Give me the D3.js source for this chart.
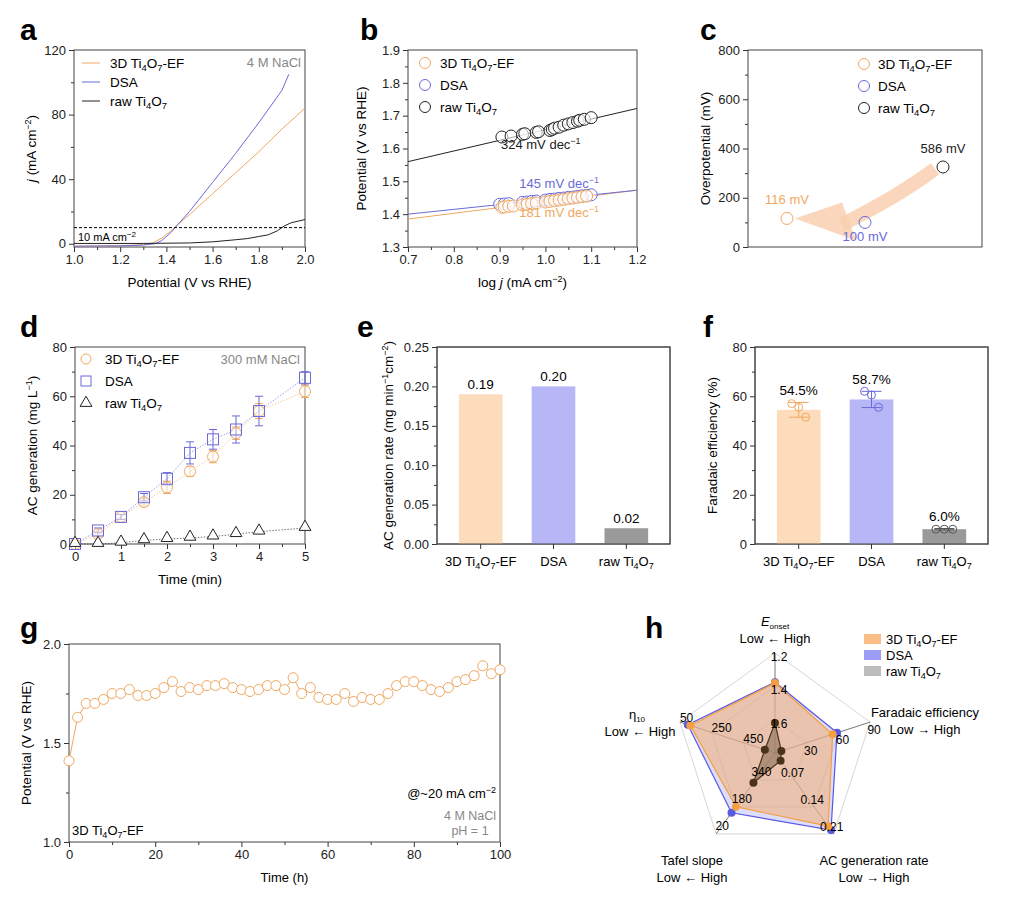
<!DOCTYPE html>
<html lang="en">
<head>
<meta charset="utf-8">
<title>Figure</title>
<script src="https://d3js.org/d3.v7.min.js"></script>
<style>
  body { margin: 0; background: #fff; }
  text { font-family: "Liberation Sans", Arial, sans-serif; }
  .tick text { font-size: 13px; fill: #222; }
  .axis path, .axis line { stroke: #333; }
</style>
</head>
<body>
<script>
// ---- data ----
var names = ["3D Ti4O7-EF", "DSA", "raw Ti4O7"];
var colors = ["#f0a860", "#6a6ad8", "#222"];

// a: LSV curves [V, j]
var lsv3D = [[1.0,-1.5],[1.2,-1.2],[1.3,-0.6],[1.34,0.5],[1.38,3.5],[1.42,8],[1.45,12],[1.5,18],[1.6,31],[1.7,44],[1.8,57],[1.9,71],[2.0,84]];
var lsvDSA = [[1.0,-1.5],[1.2,-1.3],[1.3,-0.8],[1.35,0],[1.38,2],[1.42,7],[1.45,12],[1.5,20],[1.6,38],[1.7,56],[1.8,75],[1.9,95],[1.93,105]];
var lsvRaw = [[1.0,0.2],[1.3,0.2],[1.5,0.5],[1.6,1.2],[1.7,2.5],[1.75,3.2],[1.8,4.5],[1.84,5.5],[1.88,8],[1.91,11],[1.94,13],[2.0,15]];

// b: Tafel points [log j, V] and fits
var tafRawX = [0.905,0.925,0.95,0.955,0.98,0.985,1.01,1.015,1.02,1.03,1.04,1.05,1.06,1.07,1.075,1.085,1.1];
var tafRawY = [1.635,1.638,1.643,1.645,1.649,1.651,1.655,1.658,1.662,1.665,1.671,1.675,1.679,1.683,1.686,1.689,1.694];
var tafDsaX = [0.9,0.91,0.92,0.95,0.96,0.97,0.98,1.0,1.01,1.02,1.03,1.04,1.05,1.06,1.07,1.08,1.09,1.1];
var tafDsaY = [1.43,1.431,1.432,1.436,1.437,1.439,1.44,1.443,1.445,1.446,1.448,1.449,1.451,1.452,1.454,1.456,1.457,1.459];
var taf3DX = [0.905,0.91,0.92,0.93,0.95,0.96,0.97,0.98,1.0,1.01,1.02,1.03,1.04,1.05,1.06,1.07,1.08,1.09];
var taf3DY = [1.421,1.422,1.424,1.425,1.428,1.43,1.432,1.434,1.437,1.439,1.441,1.443,1.445,1.447,1.449,1.451,1.453,1.455];
var fitRaw = [[0.7,1.56],[1.2,1.722]];
var fitDsa = [[0.7,1.40],[1.2,1.473]];
var fit3D = [[0.7,1.385],[1.2,1.473]];

// c: overpotential
var overX = [0.5, 1.5, 2.5];
var overY = [116, 100, 325];
var overLabels = ["116 mV", "100 mV", "586 mV"];

// d: AC generation vs time
var tD = [0,0.5,1,1.5,2,2.5,3,3.5,4,5];
var ac3D = [0,4,11,17,23,29.5,35.5,45,54,62];
var ac3DErr = [0.5,1,1,1.5,2.5,2,2.5,2.5,3,2.5];
var acDsa = [0,5.5,11,19,26.5,37,42.5,46.5,54,67.5];
var acDsaErr = [0.5,1,1,1.5,2.5,4.5,4,5.5,6,2.5];
var acRaw = [0,0,0.5,1.5,2,2.5,3,4,5,6.5];

// e: rate
var rate = [0.19, 0.20, 0.02];
var rateLabels = ["0.19", "0.20", "0.02"];

// f: Faradaic efficiency
var fe = [54.5, 58.7, 6.0];
var feLabels = ["54.5%", "58.7%", "6.0%"];
var feReps = [[57,55.5,51.5],[62,60.5,55.5],[6,6,6]];
var feSd = [3, 3.3, 0.3];

// g: stability
var tG = d3.range(0, 101, 2);
var potG = [1.41,1.63,1.70,1.70,1.72,1.75,1.75,1.77,1.74,1.74,1.75,1.78,1.81,1.76,1.78,1.77,1.79,1.79,1.80,1.78,1.77,1.76,1.77,1.79,1.79,1.77,1.83,1.75,1.78,1.73,1.72,1.72,1.75,1.71,1.73,1.72,1.72,1.75,1.79,1.81,1.81,1.79,1.77,1.76,1.78,1.81,1.82,1.84,1.89,1.85,1.87];

// h: radar
var radarAxes = ["Eonset", "FE", "AC", "Tafel", "eta"];
var radarDomains = [[1.8,1.2],[0,90],[0,0.21],[500,20],[650,50]];
var radarTicks = [["1.6","1.4","1.2"],["30","60","90"],["0.07","0.14","0.21"],["340","180","20"],["450","250","50"]];
var radar3D = [1.38, 54.5, 0.19, 181, 116];
var radarDsa = [1.375, 58.7, 0.20, 145, 100];
var radarRaw = [1.62, 6.0, 0.02, 324, 586];

// ---- helpers ----
var svg = d3.select("body").append("svg").attr("width", 1024).attr("height", 898);

function nameText(sel, n) {
  // writes name with subscripts for Ti4O7
  if (n.indexOf("Ti4O7") < 0) { sel.text(n); return sel; }
  var pre = n.split("Ti4O7")[0], post = n.split("Ti4O7")[1];
  sel.append("tspan").text(pre + "Ti");
  sel.append("tspan").attr("font-size", "0.7em").attr("dy", 3).text("4");
  sel.append("tspan").attr("dy", -3).text("O");
  sel.append("tspan").attr("font-size", "0.7em").attr("dy", 3).text("7");
  sel.append("tspan").attr("dy", -3).text(post);
  return sel;
}

function panelLetter(l, x, y) {
  svg.append("text").attr("x", x).attr("y", y).attr("font-size", 30).attr("font-weight", "bold").text(l);
}

function frame(x0, y0, w, h, xs, ys, xt, yt, xMinor, yMinor, xFmt, yFmt) {
  var g = svg.append("g").attr("transform", "translate(" + x0 + "," + y0 + ")");
  if (xs) {
    g.append("g").attr("class", "axis").attr("transform", "translate(0," + h + ")")
      .call(d3.axisBottom(xs).tickValues(xt).tickSize(5).tickFormat(xFmt || d3.format(".1f")))
      .call(a => a.select(".domain").remove());
    if (xMinor) g.append("g").attr("class", "axis").attr("transform", "translate(0," + h + ")")
      .call(d3.axisBottom(xs).tickValues(xMinor).tickSize(3).tickFormat(""))
      .call(a => a.select(".domain").remove());
  }
  g.append("g").attr("class", "axis")
    .call(d3.axisLeft(ys).tickValues(yt).tickSize(5).tickFormat(yFmt || d3.format("")))
    .call(a => a.select(".domain").remove());
  if (yMinor) g.append("g").attr("class", "axis")
    .call(d3.axisLeft(ys).tickValues(yMinor).tickSize(3).tickFormat(""))
    .call(a => a.select(".domain").remove());
  g.append("rect").attr("width", w).attr("height", h).attr("fill", "none").attr("stroke", "#444").attr("stroke-width", 1);
  return g;
}

function yTitle(g, x, h, parts) {
  var t = g.append("text").attr("transform", "translate(" + x + "," + (h / 2) + ") rotate(-90)")
    .attr("text-anchor", "middle").attr("font-size", 13.5);
  parts(t);
}

// ---- a ----
(function () {
  var w = 231, h = 197;
  var x = d3.scaleLinear().domain([1, 2]).range([0, w]);
  var y = d3.scaleLinear().domain([-2, 120]).range([h, 0]);
  var g = frame(74, 50, w, h, x, y, [1, 1.2, 1.4, 1.6, 1.8, 2], [0, 40, 80, 120], d3.range(1.1, 2, 0.2), [20, 60, 100]);
  var line = d3.line().x(d => x(d[0])).y(d => y(d[1]));
  [lsv3D, lsvDSA, lsvRaw].forEach((s, i) => g.append("path").datum(s).attr("d", line).attr("fill", "none").attr("stroke", colors[i]).attr("stroke-width", 1));
  g.append("line").attr("x1", 0).attr("x2", w).attr("y1", y(10)).attr("y2", y(10)).attr("stroke", "#000").attr("stroke-dasharray", "3,2");
  var tt = g.append("text").attr("x", 4).attr("y", y(10) + 13).attr("font-size", 11);
  tt.append("tspan").text("10 mA cm");
  tt.append("tspan").attr("font-size", 8).attr("dy", -4).text("\u22122");
  g.append("text").attr("x", w - 4).attr("y", 17).attr("text-anchor", "end").attr("font-size", 13).attr("fill", "#888").text("4 M NaCl");
  names.forEach((n, i) => {
    g.append("line").attr("x1", 8).attr("x2", 26).attr("y1", 13 + i * 19).attr("y2", 13 + i * 19).attr("stroke", colors[i]);
    nameText(g.append("text").attr("x", 36).attr("y", 18 + i * 19).attr("font-size", 13.5), n);
  });
  g.append("text").attr("x", w / 2).attr("y", h + 40).attr("text-anchor", "middle").attr("font-size", 13.5).text("Potential (V vs RHE)");
  yTitle(g, -38, h, t => { t.append("tspan").attr("font-style", "italic").text("j"); t.append("tspan").text(" (mA cm"); t.append("tspan").attr("font-size", 9).attr("dy", -5).text("\u22122"); t.append("tspan").attr("dy", 5).text(")"); });
  panelLetter("a", 20, 40);
})();

// ---- b ----
(function () {
  var w = 229, h = 197;
  var x = d3.scaleLinear().domain([0.7, 1.2]).range([0, w]);
  var y = d3.scaleLinear().domain([1.3, 1.9]).range([h, 0]);
  var g = frame(408, 50, w, h, x, y, [0.7, 0.8, 0.9, 1.0, 1.1, 1.2], [1.3, 1.4, 1.5, 1.6, 1.7, 1.8, 1.9], d3.range(0.75, 1.2, 0.1), d3.range(1.35, 1.9, 0.1), null, d3.format(".1f"));
  var line = d3.line().x(d => x(d[0])).y(d => y(d[1]));
  [fit3D, fitDsa, fitRaw].forEach((s, i) => g.append("path").datum(s).attr("d", line).attr("stroke", colors[i]).attr("fill", "none"));
  [[tafRawX, tafRawY, 2], [tafDsaX, tafDsaY, 1], [taf3DX, taf3DY, 0]].forEach(s => {
    s[0].forEach((v, k) => g.append("circle").attr("cx", x(v)).attr("cy", y(s[1][k])).attr("r", 6)
      .attr("fill", "#fff").attr("fill-opacity", 0.6).attr("stroke", colors[s[2]]).attr("stroke-width", 1));
  });
  var lab = [["181 mV dec", x(1.03), y(1.39), colors[0]], ["145 mV dec", x(1.03), y(1.48), colors[1]], ["324 mV dec", x(0.99), y(1.6), colors[2]]];
  lab.forEach(l => { var t = g.append("text").attr("x", l[1]).attr("y", l[2]).attr("text-anchor", "middle").attr("font-size", 13).attr("fill", l[3]); t.append("tspan").text(l[0]); t.append("tspan").attr("font-size", 9).attr("dy", -5).text("\u22121"); });
  names.forEach((n, i) => {
    g.append("circle").attr("cx", 17).attr("cy", 13 + i * 22).attr("r", 5.5).attr("fill", "none").attr("stroke", colors[i]);
    nameText(g.append("text").attr("x", 32).attr("y", 18 + i * 22).attr("font-size", 13.5), n);
  });
  var xt = g.append("text").attr("x", w / 2).attr("y", h + 40).attr("text-anchor", "middle").attr("font-size", 13.5);
  xt.append("tspan").text("log "); xt.append("tspan").attr("font-style", "italic").text("j"); xt.append("tspan").text(" (mA cm"); xt.append("tspan").attr("font-size", 9).attr("dy", -5).text("\u22122"); xt.append("tspan").attr("dy", 5).text(")");
  yTitle(g, -42, h, t => t.text("Potential (V vs RHE)"));
  panelLetter("b", 360, 40);
})();

// ---- c ----
(function () {
  var w = 234, h = 197;
  var x = d3.scaleLinear().domain([0, 3]).range([0, w]);
  var y = d3.scaleLinear().domain([0, 800]).range([h, 0]);
  var g = frame(748, 50, w, h, null, y, null, [0, 200, 400, 600, 800], null, [100, 300, 500, 700]);
  // arrow from raw to 3D
  var p0 = [x(overX[2]) - 8, y(overY[2]) + 2], p1 = [x(overX[0]) + 55, y(overY[0]) + 6];
  g.append("path").attr("d", "M" + p0 + " Q" + [x(1.9), y(200)] + " " + p1)
    .attr("fill", "none").attr("stroke", "#f8cfb0").attr("stroke-width", 14).attr("opacity", 0.85);
  g.append("path").attr("d", "M" + [p1[0], p1[1] - 22] + " L" + [x(overX[0]) + 8, y(overY[0])] + " L" + [p1[0] + 14, p1[1] + 16] + "Z")
    .attr("fill", "#f8cfb0").attr("opacity", 0.85);
  overX.forEach((v, i) => g.append("circle").attr("cx", x(v)).attr("cy", y(overY[i])).attr("r", 6).attr("fill", "none").attr("stroke", colors[i]));
  var ly = [y(overY[0]) - 14, y(overY[1]) + 19, y(overY[2]) - 14];
  overX.forEach((v, i) => g.append("text").attr("x", x(v)).attr("y", ly[i]).attr("text-anchor", "middle").attr("font-size", 13).attr("fill", i == 2 ? "#222" : colors[i]).text(overLabels[i]));
  names.forEach((n, i) => {
    g.append("circle").attr("cx", 116).attr("cy", 14 + i * 22).attr("r", 5.5).attr("fill", "none").attr("stroke", colors[i]);
    nameText(g.append("text").attr("x", 130).attr("y", 19 + i * 22).attr("font-size", 13.5), n);
  });
  yTitle(g, -38, h, t => t.text("Overpotential (mV)"));
  panelLetter("c", 700, 40);
})();

// ---- d ----
(function () {
  var w = 230, h = 197;
  var x = d3.scaleLinear().domain([0, 5]).range([0, w]);
  var y = d3.scaleLinear().domain([0, 80]).range([h, 0]);
  var g = frame(75, 347, w, h, x, y, [0, 1, 2, 3, 4, 5], [0, 20, 40, 60, 80], d3.range(0.5, 5, 1), [10, 30, 50, 70], d3.format("d"));
  var line = d3.line().x((d, i) => x(tD[i])).y(d => y(d));
  [ac3D, acDsa, acRaw].forEach((s, i) => g.append("path").datum(s).attr("d", line).attr("fill", "none").attr("stroke", colors[i]).attr("stroke-width", 0.8).attr("stroke-dasharray", "1.5,1.5").attr("opacity", 0.8));
  [[ac3D, ac3DErr, 0], [acDsa, acDsaErr, 1]].forEach(s => {
    s[0].forEach((v, k) => {
      var c = colors[s[2]], X = x(tD[k]);
      g.append("line").attr("x1", X).attr("x2", X).attr("y1", y(v - s[1][k])).attr("y2", y(v + s[1][k])).attr("stroke", c);
      [v - s[1][k], v + s[1][k]].forEach(e => g.append("line").attr("x1", X - 4).attr("x2", X + 4).attr("y1", y(e)).attr("y2", y(e)).attr("stroke", c));
    });
  });
  ac3D.forEach((v, k) => g.append("circle").attr("cx", x(tD[k])).attr("cy", y(v)).attr("r", 5.5).attr("fill", "#fff").attr("fill-opacity", 0.5).attr("stroke", colors[0]));
  acDsa.forEach((v, k) => g.append("rect").attr("x", x(tD[k]) - 5.5).attr("y", y(v) - 5.5).attr("width", 11).attr("height", 11).attr("fill", "none").attr("stroke", colors[1]));
  var tri = d3.symbol().type(d3.symbolTriangle).size(60);
  acRaw.forEach((v, k) => g.append("path").attr("d", tri).attr("transform", "translate(" + x(tD[k]) + "," + (y(v) - 1) + ")").attr("fill", "#fff").attr("stroke", "#222"));
  g.append("text").attr("x", w - 5).attr("y", 17).attr("text-anchor", "end").attr("font-size", 13).attr("fill", "#888").text("300 mM NaCl");
  names.forEach((n, i) => {
    var cy = 12 + i * 22;
    if (i == 0) g.append("circle").attr("cx", 11).attr("cy", cy).attr("r", 5).attr("fill", "none").attr("stroke", colors[0]);
    if (i == 1) g.append("rect").attr("x", 6).attr("y", cy - 5).attr("width", 10).attr("height", 10).attr("fill", "none").attr("stroke", colors[1]);
    if (i == 2) g.append("path").attr("d", tri).attr("transform", "translate(11," + cy + ")").attr("fill", "none").attr("stroke", "#222");
    nameText(g.append("text").attr("x", 30).attr("y", cy + 5).attr("font-size", 13.5), n);
  });
  g.append("text").attr("x", w / 2).attr("y", h + 40).attr("text-anchor", "middle").attr("font-size", 13.5).text("Time (min)");
  yTitle(g, -38, h, t => { t.append("tspan").text("AC generation (mg L"); t.append("tspan").attr("font-size", 9).attr("dy", -5).text("\u22121"); t.append("tspan").attr("dy", 5).text(")"); });
  panelLetter("d", 20, 337);
})();

// ---- bar helper ----
var barColors = ["#fddcbc", "#b7b7f7", "#9a9a9a"];
function bars(x0, vals, dom, ticks, minor, fmt) {
  var w = 233, h = 197;
  var x = d3.scaleBand().domain(names).range([0, w]).paddingInner(0.4).paddingOuter(0.3);
  var y = d3.scaleLinear().domain(dom).range([h, 0]);
  var g = frame(x0, 347, w, h, null, y, null, ticks, null, minor, null, fmt);
  g.selectAll(".bar").data(vals).enter().append("rect")
    .attr("x", (d, i) => x(names[i])).attr("width", x.bandwidth())
    .attr("y", d => y(d)).attr("height", d => h - y(d)).attr("fill", (d, i) => barColors[i]);
  g.append("rect").attr("width", w).attr("height", h).attr("fill", "none").attr("stroke", "#444");
  names.forEach((n, i) => {
    var cx = x(n) + x.bandwidth() / 2;
    g.append("line").attr("x1", cx).attr("x2", cx).attr("y1", h).attr("y2", h + 5).attr("stroke", "#333");
    nameText(g.append("text").attr("x", cx).attr("y", h + 22).attr("text-anchor", "middle").attr("font-size", 13), n);
  });
  return {g: g, x: x, y: y, w: w, h: h};
}

// ---- e ----
(function () {
  var b = bars(437, rate, [0, 0.25], [0, 0.05, 0.1, 0.15, 0.2, 0.25], d3.range(0.025, 0.25, 0.05), d3.format(".2f"));
  rate.forEach((v, i) => b.g.append("text").attr("x", b.x(names[i]) + b.x.bandwidth() / 2).attr("y", b.y(v) - 5).attr("text-anchor", "middle").attr("font-size", 13.5).text(rateLabels[i]));
  yTitle(b.g, -44, b.h, t => { t.append("tspan").text("AC generation rate (mg min"); t.append("tspan").attr("font-size", 9).attr("dy", -5).text("\u22121"); t.append("tspan").attr("dy", 5).text("cm"); t.append("tspan").attr("font-size", 9).attr("dy", -5).text("\u22122"); t.append("tspan").attr("dy", 5).text(")"); });
  panelLetter("e", 357, 337);
})();

// ---- f ----
(function () {
  var b = bars(755, fe, [0, 80], [0, 20, 40, 60, 80], [10, 30, 50, 70]);
  var pc = ["#f0a860", "#6a6ad8", "#555"];
  fe.forEach((v, i) => {
    var cx = b.x(names[i]) + b.x.bandwidth() / 2;
    b.g.append("line").attr("x1", cx).attr("x2", cx).attr("y1", b.y(v - feSd[i])).attr("y2", b.y(v + feSd[i])).attr("stroke", pc[i]);
    [v - feSd[i], v + feSd[i]].forEach(e => b.g.append("line").attr("x1", cx - 10).attr("x2", cx + 10).attr("y1", b.y(e)).attr("y2", b.y(e)).attr("stroke", pc[i]));
    feReps[i].forEach((r, k) => b.g.append("circle").attr("cx", cx + (k - 1) * 7 * (i == 2 ? 1.2 : 1)).attr("cy", b.y(r)).attr("r", 4).attr("fill", "none").attr("stroke", pc[i]));
    b.g.append("text").attr("x", cx).attr("y", b.y(v + feSd[i]) - 7).attr("text-anchor", "middle").attr("font-size", 13.5).text(feLabels[i]);
  });
  yTitle(b.g, -38, b.h, t => t.text("Faradaic efficiency (%)"));
  panelLetter("f", 703, 337);
})();

// ---- g ----
(function () {
  var w = 431, h = 198;
  var x = d3.scaleLinear().domain([0, 100]).range([0, w]);
  var y = d3.scaleLinear().domain([1, 2]).range([h, 0]);
  var g = frame(69, 644, w, h, x, y, [0, 20, 40, 60, 80, 100], [1, 1.5, 2], d3.range(10, 100, 20), [1.25, 1.75], d3.format("d"), d3.format(".1f"));
  g.append("path").datum(potG).attr("d", d3.line().x((d, i) => x(tG[i])).y(d => y(d))).attr("fill", "none").attr("stroke", "#f0a860");
  potG.forEach((v, i) => g.append("circle").attr("cx", x(tG[i])).attr("cy", y(v)).attr("r", 5).attr("fill", "#fff").attr("stroke", "#f0a860"));
  var t1 = g.append("text").attr("x", w - 4).attr("y", h - 44).attr("text-anchor", "end").attr("font-size", 13);
  t1.append("tspan").text("@~20 mA cm"); t1.append("tspan").attr("font-size", 9).attr("dy", -5).text("\u22122");
  g.append("text").attr("x", w - 30).attr("y", h - 22).attr("text-anchor", "middle").attr("font-size", 12.5).attr("fill", "#888").text("4 M NaCl");
  g.append("text").attr("x", w - 30).attr("y", h - 7).attr("text-anchor", "middle").attr("font-size", 12.5).attr("fill", "#888").text("pH = 1");
  nameText(g.append("text").attr("x", 3).attr("y", h - 7).attr("font-size", 13), "3D Ti4O7-EF");
  g.append("text").attr("x", w / 2).attr("y", h + 40).attr("text-anchor", "middle").attr("font-size", 13).text("Time (h)");
  yTitle(g, -38, h, t => t.text("Potential (V vs RHE)"));
  panelLetter("g", 20, 638);
})();

// ---- h ----
(function () {
  var cx = 775, cy = 753, R = 100;
  var g = svg.append("g").attr("transform", "translate(" + cx + "," + cy + ")");
  var ang = radarAxes.map((a, i) => (-90 + 72 * i) * Math.PI / 180);
  var sc = radarDomains.map(d => d3.scaleLinear().domain(d).range([0, R]));
  [1 / 3, 2 / 3, 1].forEach(f => g.append("polygon").attr("points", ang.map(a => [R * f * Math.cos(a), R * f * Math.sin(a)].join(",")).join(" ")).attr("fill", "none").attr("stroke", "#ccc").attr("stroke-width", 0.8));
  ang.forEach(a => g.append("line").attr("x2", R * Math.cos(a)).attr("y2", R * Math.sin(a)).attr("stroke", "#555").attr("stroke-width", 0.8));
  function pts(vals) { return vals.map((v, i) => [sc[i](v) * Math.cos(ang[i]), sc[i](v) * Math.sin(ang[i])]); }
  var sets = [[radarDsa, "#9a9af5", "#5858e0"], [radar3D, "#f2b27a", "#f5a040"], [radarRaw, "#8a6e55", "#4a3218"]];
  sets.forEach(s => {
    var p = pts(s[0]);
    g.append("polygon").attr("points", p.map(q => q.join(",")).join(" ")).attr("fill", s[1]).attr("fill-opacity", s[0] === radarDsa ? 0.35 : 0.6).attr("stroke", s[2]).attr("stroke-width", 1.2);
    p.forEach(q => g.append("circle").attr("cx", q[0]).attr("cy", q[1]).attr("r", 4).attr("fill", s[2]));
  });
  radarTicks.forEach((tk, i) => tk.forEach((t, k) => {
    var r = R * (k + 1) / 3, a = ang[i];
    var dx = [4, 4, -2, 6, 0][i], dy = [8, 12, -3, -4, 0][i];
    g.append("text").attr("x", r * Math.cos(a) + dx).attr("y", r * Math.sin(a) + dy).attr("text-anchor", i == 4 ? "start" : "middle").attr("font-size", 12).text(t);
  }));
  // axis titles
  var e = g.append("text").attr("x", 0).attr("y", -127).attr("text-anchor", "middle").attr("font-size", 13);
  e.append("tspan").attr("font-style", "italic").text("E"); e.append("tspan").attr("font-size", 8).attr("dy", 3).text("onset");
  g.append("text").attr("x", 0).attr("y", -110).attr("text-anchor", "middle").attr("font-size", 13).text("Low \u2190 High");
  g.append("text").attr("x", 150).attr("y", -36).attr("text-anchor", "middle").attr("font-size", 13).text("Faradaic efficiency");
  g.append("text").attr("x", 150).attr("y", -19).attr("text-anchor", "middle").attr("font-size", 13).text("Low \u2192 High");
  g.append("text").attr("x", 99).attr("y", 112).attr("text-anchor", "middle").attr("font-size", 13).text("AC generation rate");
  g.append("text").attr("x", 99).attr("y", 129).attr("text-anchor", "middle").attr("font-size", 13).text("Low \u2192 High");
  g.append("text").attr("x", -83).attr("y", 112).attr("text-anchor", "middle").attr("font-size", 13).text("Tafel slope");
  g.append("text").attr("x", -83).attr("y", 129).attr("text-anchor", "middle").attr("font-size", 13).text("Low \u2190 High");
  var et = g.append("text").attr("x", -138).attr("y", -34).attr("text-anchor", "middle").attr("font-size", 13);
  et.append("tspan").text("\u03b7"); et.append("tspan").attr("font-size", 8).attr("dy", 3).text("10");
  g.append("text").attr("x", -135).attr("y", -17).attr("text-anchor", "middle").attr("font-size", 13).text("Low \u2190 High");
  // legend
  var lg = ["#f9bd85", "#9d9df7", "#bcbcbc"];
  names.forEach((n, i) => {
    svg.append("rect").attr("x", 864).attr("y", 634 + i * 16).attr("width", 17).attr("height", 10).attr("fill", lg[i]);
    nameText(svg.append("text").attr("x", 886).attr("y", 644 + i * 16).attr("font-size", 13), n);
  });
  panelLetter("h", 645, 638);
})();
</script>
</body>
</html>
